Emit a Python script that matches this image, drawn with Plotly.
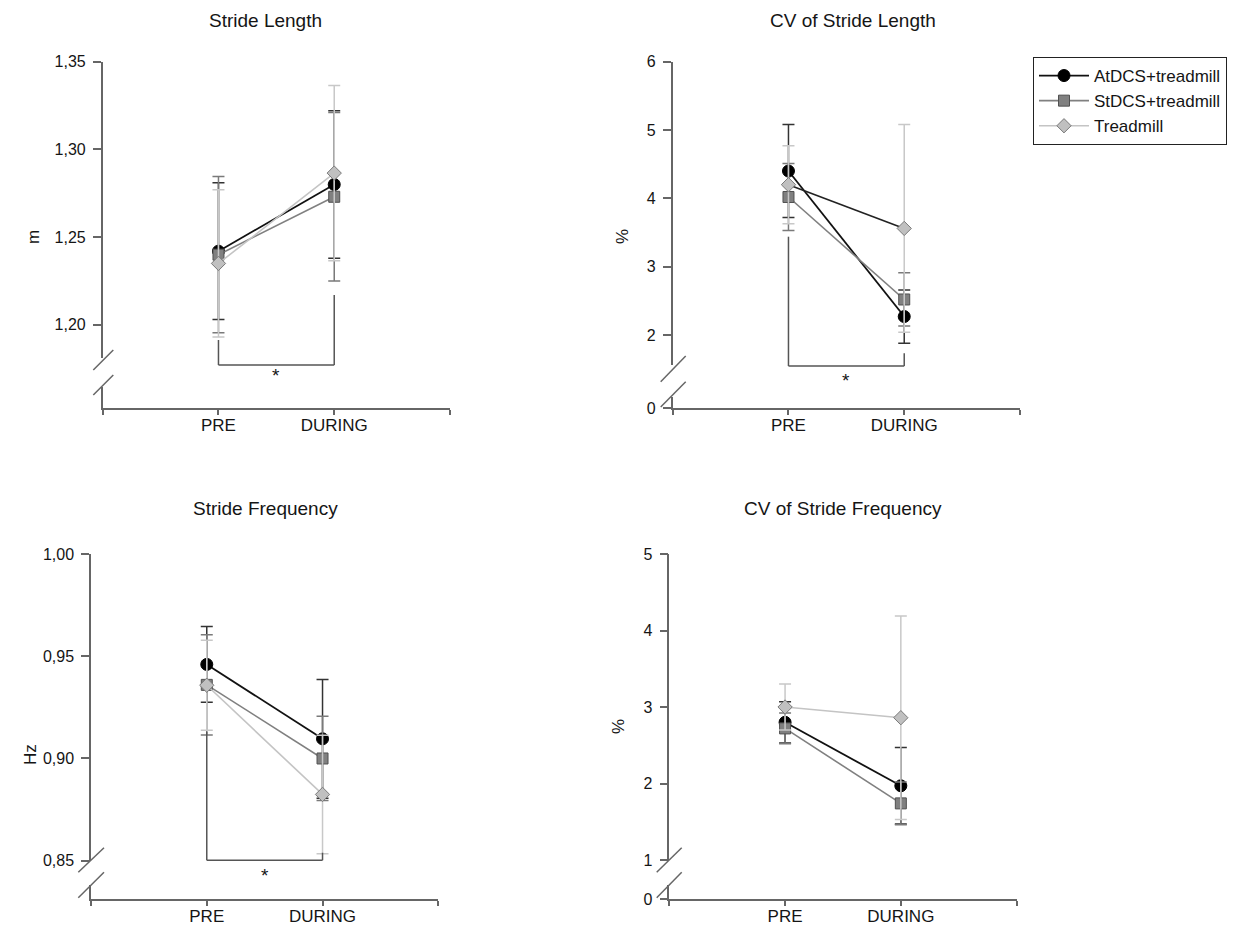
import plotly.graph_objects as go

W, H = 1249, 926

# ---------------- data ----------------
groups = ["AtDCS+treadmill", "StDCS+treadmill", "Treadmill"]
times = ["PRE", "DURING"]
time_pos = [1, 2]

# Stride Length (m)
sl_mean = {"AtDCS+treadmill": [1.242, 1.280],
           "StDCS+treadmill": [1.240, 1.273],
           "Treadmill": [1.235, 1.2865]}
sl_sd = {"AtDCS+treadmill": [0.039, 0.042],
         "StDCS+treadmill": [0.0445, 0.048],
         "Treadmill": [0.042, 0.050]}

# CV of Stride Length (%)
cvsl_mean = {"AtDCS+treadmill": [4.40, 2.27],
             "StDCS+treadmill": [4.02, 2.52],
             "Treadmill": [4.20, 3.56]}
cvsl_sd = {"AtDCS+treadmill": [0.68, 0.39],
           "StDCS+treadmill": [0.49, 0.39],
           "Treadmill": [0.57, 1.52]}

# Stride Frequency (Hz)
sf_mean = {"AtDCS+treadmill": [0.946, 0.9096],
           "StDCS+treadmill": [0.936, 0.900],
           "Treadmill": [0.9358, 0.8824]}
sf_sd = {"AtDCS+treadmill": [0.0185, 0.029],
         "StDCS+treadmill": [0.0245, 0.0206],
         "Treadmill": [0.022, 0.029]}

# CV of Stride Frequency (%)
cvsf_mean = {"AtDCS+treadmill": [2.80, 1.97],
             "StDCS+treadmill": [2.72, 1.74],
             "Treadmill": [3.00, 2.86]}
cvsf_sd = {"AtDCS+treadmill": [0.27, 0.50],
           "StDCS+treadmill": [0.20, 0.28],
           "Treadmill": [0.30, 1.33]}

titles = ["Stride Length", "CV of Stride Length", "Stride Frequency", "CV of Stride Frequency"]
ylabels = ["m", "%", "Hz", "%"]

sl_ticks = [1.20, 1.25, 1.30, 1.35]
cvsl_ticks = [2, 3, 4, 5, 6]
sf_ticks = [0.85, 0.90, 0.95, 1.00]
cvsf_ticks = [1, 2, 3, 4, 5]

# ---------------- styles ----------------
FONT = "Arial, Liberation Sans, sans-serif"
TXT = "#151515"
AX = "#666666"
style = {
    "AtDCS+treadmill": dict(symbol="circle", size=12, fill="#000000", edge="#000000",
                            line="#111111", err="#333333", lw=1.8),
    "StDCS+treadmill": dict(symbol="square", size=11, fill="#808080", edge="#505050",
                            line="#808080", err="#7a7a7a", lw=1.6),
    "Treadmill": dict(symbol="diamond", size=11, fill="#c0c0c0", edge="#7a7a7a",
                      line="#c4c4c4", err="#c8c8c8", lw=1.6),
}


def fx(x):
    return x / W


def fy(y):
    return 1 - y / H


# panel geometry in pixels
panels = [
    dict(mean=sl_mean, sd=sl_sd, ax_left=102.7, up=(61.7, 358), low=(386.7, 408.3),
         yr=(1.1811, 1.35), ticks=sl_ticks, fmt=".2f", lowtick=False,
         title_xy=(265, 20), ylab_xy=(33, 237),
         slashes=[((93.3, 370), (113.3, 350)), ((93.3, 395), (113.3, 375))],
         bracket=dict(pre_top=340, dur_top=295, y=365, star_y=376)),
    dict(mean=cvsl_mean, sd=cvsl_sd, ax_left=672.7, up=(61.7, 365), low=(396.7, 408.3),
         yr=(1.561, 6.0), ticks=cvsl_ticks, fmt="d", lowtick=True, low_per_px=1 / 68.33,
         title_xy=(853, 20), ylab_xy=(622, 237),
         slashes=[((660.7, 381.7), (685.7, 356)), ((660.7, 407), (685.7, 381.7))],
         bracket=dict(pre_top=236.7, dur_top=353.3, y=366, star_y=380)),
    dict(mean=sf_mean, sd=sf_sd, ax_left=91.0, up=(554, 860.7), low=(885, 899.3),
         yr=(0.85, 1.00), ticks=sf_ticks, fmt=".2f", lowtick=False,
         title_xy=(265, 509), ylab_xy=(30, 755),
         slashes=[((78.3, 872.3), (104, 847.7)), ((78.3, 897.7), (104, 872.3))],
         bracket=dict(pre_top=731.7, dur_top=852.7, y=860.3, star_y=875)),
    dict(mean=cvsf_mean, sd=cvsf_sd, ax_left=669.3, up=(554, 860), low=(885, 899.3),
         yr=(1.0, 5.0), ticks=cvsf_ticks, fmt="d", lowtick=True, low_per_px=1 / 76.5,
         title_xy=(843, 509), ylab_xy=(618, 727),
         slashes=[((656.7, 872.3), (681.7, 847.7)), ((656.7, 897.7), (681.7, 872.3))],
         bracket=None),
]
AXW = 347.3

fig = go.Figure()
layout = dict(width=W, height=H, autosize=False,
              margin=dict(l=0, r=0, t=0, b=0, pad=0, autoexpand=False),
              paper_bgcolor="white", plot_bgcolor="white", separators=", ",
              font=dict(family=FONT, color=TXT), showlegend=True)
shapes = []
annotations = []

for i, p in enumerate(panels):
    xi = i + 1
    yu = 2 * i + 1
    yl = 2 * i + 2
    xname = "x" if xi == 1 else f"x{xi}"
    yuname = "y" if yu == 1 else f"y{yu}"
    ylname = f"y{yl}"
    xkey = "xaxis" if xi == 1 else f"xaxis{xi}"
    yukey = "yaxis" if yu == 1 else f"yaxis{yu}"
    ylkey = f"yaxis{yl}"

    for g in groups:
        s = style[g]
        lc = s["line"]
        if i == 1 and g == "Treadmill":
            lc = "#222222"
        fig.add_trace(go.Scatter(
            x=time_pos, y=p["mean"][g], name=g, mode="lines+markers",
            xaxis=xname, yaxis=yuname, showlegend=(i == 0), legendgroup=g,
            line=dict(color=lc, width=s["lw"]),
            marker=dict(symbol=s["symbol"], size=s["size"], color=s["fill"],
                        line=dict(color=s["edge"], width=1)),
            error_y=dict(type="data", array=p["sd"][g], visible=True,
                         color=s["err"], thickness=1.5, width=6),
            cliponaxis=False,
        ))
    # empty trace to create lower segment subplot
    fig.add_trace(go.Scatter(x=[], y=[], xaxis=xname, yaxis=ylname, showlegend=False,
                             hoverinfo="skip"))

    L = p["ax_left"]
    layout[xkey] = dict(domain=[fx(L), fx(L + AXW)], anchor=ylname, range=[0, 3],
                        tickmode="array", tickvals=[0, 1, 2, 3],
                        ticktext=["", times[0], times[1], ""],
                        ticks="outside", ticklen=5, tickwidth=1.5, tickcolor=AX,
                        showline=True, linecolor=AX, linewidth=1.5,
                        showgrid=False, zeroline=False, automargin=False,
                        ticklabelstandoff=-4,
                        tickfont=dict(size=17, color=TXT, family=FONT))
    layout[yukey] = dict(domain=[fy(p["up"][1]), fy(p["up"][0])], anchor=xname,
                         range=list(p["yr"]), tickmode="array", tickvals=p["ticks"],
                         tickformat=p["fmt"], ticks="outside", ticklen=8, tickwidth=1.5,
                         tickcolor=AX, showline=True, linecolor=AX, linewidth=1.5,
                         showgrid=False, zeroline=False, ticklabelstandoff=4,
                         automargin=False,
                         tickfont=dict(size=16, color=TXT, family=FONT))
    lh = p["low"][1] - p["low"][0]
    if p["lowtick"]:
        low_range = [0, lh * p["low_per_px"]]
        ly = dict(tickmode="array", tickvals=[0], ticktext=["0"], ticks="outside",
                  ticklen=8, tickwidth=1.5, tickcolor=AX)
    else:
        low_range = [0, 1]
        ly = dict(tickmode="array", tickvals=[], ticks="")
    layout[ylkey] = dict(domain=[fy(p["low"][1]), fy(p["low"][0])], anchor=xname,
                         range=low_range, showline=True, linecolor=AX, linewidth=1.5,
                         showgrid=False, zeroline=False, ticklabelstandoff=4,
                         automargin=False,
                         tickfont=dict(size=16, color=TXT, family=FONT), **ly)

    # axis-break slashes
    for (x0, y0), (x1, y1) in p["slashes"]:
        shapes.append(dict(type="line", xref="paper", yref="paper",
                           x0=fx(x0), y0=fy(y0), x1=fx(x1), y1=fy(y1),
                           line=dict(color=AX, width=1.5)))

    # significance bracket
    b = p["bracket"]
    if b:
        bl = dict(color="#555555", width=1.5)
        shapes.append(dict(type="line", xref=xname, yref="paper", x0=1, x1=1,
                           y0=fy(b["pre_top"]), y1=fy(b["y"]), line=bl))
        shapes.append(dict(type="line", xref=xname, yref="paper", x0=2, x1=2,
                           y0=fy(b["dur_top"]), y1=fy(b["y"]), line=bl))
        shapes.append(dict(type="line", xref=xname, yref="paper", x0=1, x1=2,
                           y0=fy(b["y"]), y1=fy(b["y"]), line=bl))
        annotations.append(dict(text="*", xref=xname, yref="paper", x=1.5,
                                y=fy(b["star_y"]), xanchor="center", yanchor="middle",
                                showarrow=False,
                                font=dict(size=19, color=TXT, family=FONT)))

    # titles
    tx, ty = p["title_xy"]
    annotations.append(dict(text=titles[i], xref="paper", yref="paper",
                            x=fx(tx), y=fy(ty), xanchor="center", yanchor="middle",
                            showarrow=False,
                            font=dict(size=19, color=TXT, family=FONT)))
    lx, lyy = p["ylab_xy"]
    annotations.append(dict(text=ylabels[i], xref="paper", yref="paper",
                            x=fx(lx), y=fy(lyy), xanchor="center", yanchor="middle",
                            showarrow=False, textangle=-90,
                            font=dict(size=17, color=TXT, family=FONT)))

layout["shapes"] = shapes
layout["annotations"] = annotations
layout["legend"] = dict(x=fx(1033), y=fy(57), xanchor="left", yanchor="top",
                        bordercolor="#222222", borderwidth=1, bgcolor="white",
                        font=dict(size=17, color=TXT, family=FONT),
                        itemwidth=50, traceorder="normal", tracegroupgap=0)
fig.update_layout(**layout)
fig.write_html("out.html")
